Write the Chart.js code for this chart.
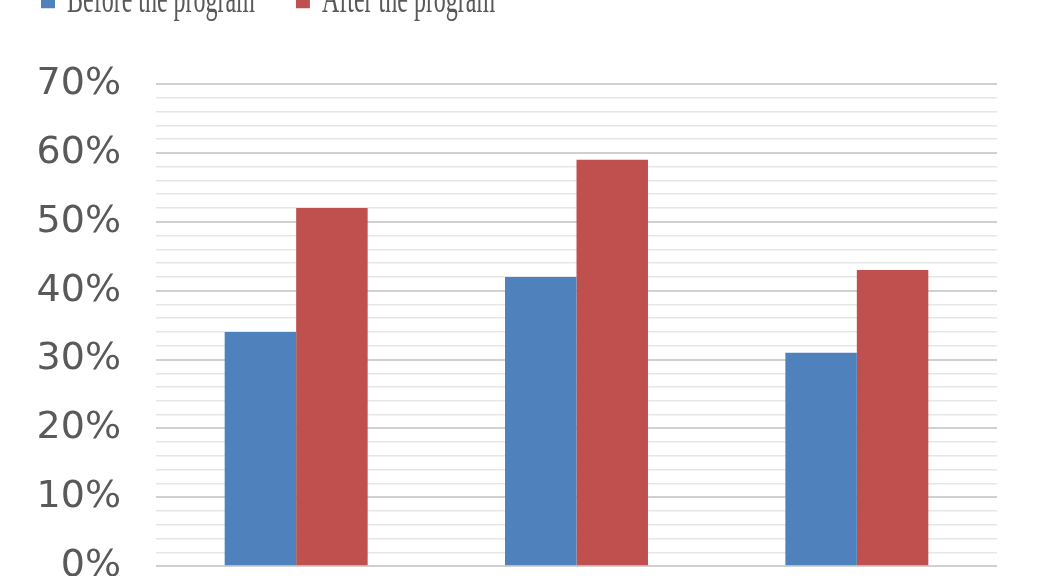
<!DOCTYPE html>
<html>
<head>
<meta charset="utf-8">
<script src="https://cdn.jsdelivr.net/npm/chart.js@4.4.1/dist/chart.umd.min.js"></script>
<style>
  html, body { margin: 0; padding: 0; background: #ffffff; overflow: hidden; width: 1038px; height: 576px; }
  #wrap { position: absolute; left: 0; top: -51px; width: 1038px; height: 675px; }
</style>
</head>
<body>
<div id="wrap"><canvas id="c" width="1038" height="675"></canvas></div>
<script>
const categories = ["Group 1", "Group 2", "Group 3"];
const seriesNames = ["Before the program", "After the program"];
const beforeValues = [34, 42, 31];
const afterValues = [52, 59, 43];
const yMin = 0;
const yMax = 70;
const yMinorStep = 2;
const yMajorStep = 10;

const legendShape = {
  id: 'legendShape',
  beforeInit(chart) {
    const lg = chart.legend;
    const origFit = lg.fit;
    lg.fit = function () {
      origFit.call(this);
      this.height = 135;
    };
    const origDraw = lg.draw;
    lg.draw = function () {
      const ctx = this.ctx;
      const pivot = 54.25, sy = 1.8;
      ctx.save();
      ctx.translate(0, pivot * (1 - sy));
      ctx.scale(1, sy);
      origDraw.apply(this, arguments);
      ctx.restore();
    };
  }
};

new Chart(document.getElementById('c'), {
  type: 'bar',
  data: {
    labels: categories,
    datasets: [
      { label: seriesNames[0], data: beforeValues, backgroundColor: '#4f81bd', borderWidth: 0 },
      { label: seriesNames[1], data: afterValues, backgroundColor: '#c0504d', borderWidth: 0 }
    ]
  },
  options: {
    responsive: false,
    animation: false,
    devicePixelRatio: 1,
    layout: { padding: { left: 0, right: 41, top: 0, bottom: 0 } },
    datasets: { bar: { categoryPercentage: 0.51, barPercentage: 1.0 } },
    plugins: {
      tooltip: { enabled: false },
      legend: {
        position: 'top',
        align: 'start',
        labels: {
          boxWidth: 14,
          boxHeight: 8,
          padding: 41,
          color: '#595959',
          font: { family: '"Liberation Serif", "DejaVu Serif", serif', size: 24 }
        }
      }
    },
    scales: {
      x: {
        grid: { display: false, drawTicks: false },
        border: { display: false },
        ticks: { display: false }
      },
      y: {
        min: yMin,
        max: yMax,
        afterFit(scale) { scale.width = 156; },
        border: { display: false },
        grid: {
          drawTicks: false,
          color: (ctx) => (ctx.tick && ctx.tick.value % yMajorStep === 0) ? '#d0d0d0' : '#e6e6e6',
          lineWidth: (ctx) => (ctx.tick && ctx.tick.value % yMajorStep === 0) ? 2 : 1.5
        },
        ticks: {
          stepSize: yMinorStep,
          autoSkip: false,
          padding: 35,
          color: '#595959',
          font: { family: '"DejaVu Sans", sans-serif', size: 38 },
          callback: (v) => (v % yMajorStep === 0) ? v + '%' : ''
        }
      }
    }
  },
  plugins: [legendShape]
});
</script>
</body>
</html>
